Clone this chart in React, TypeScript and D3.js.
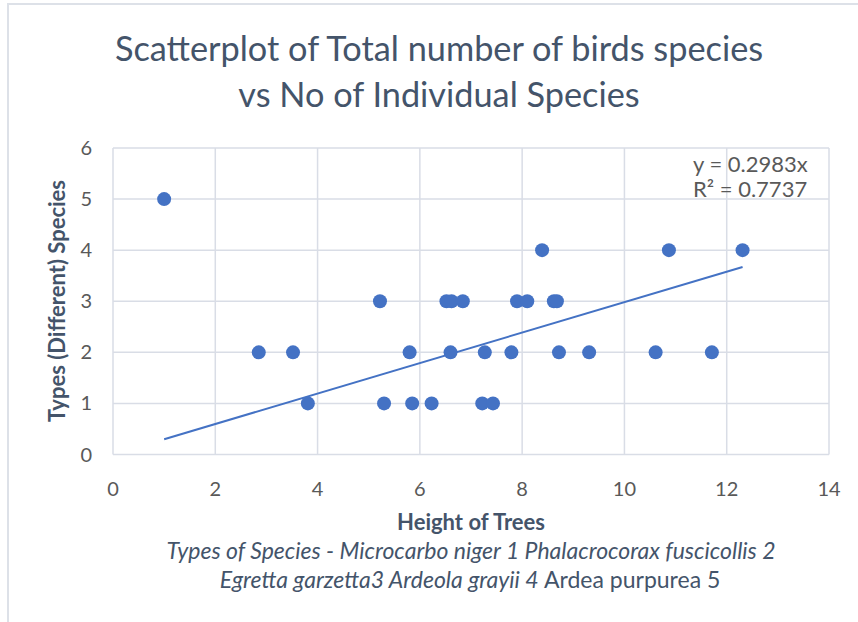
import React from "react";
import * as d3 from "d3";

const heights = [1, 2.85, 3.52, 3.81, 5.22, 5.3, 5.8, 5.85, 6.23, 6.52, 6.62, 6.84, 6.6, 8.39, 10.87, 12.31, 7.9, 8.1, 8.62, 8.68, 7.27, 7.79, 8.72, 9.31, 10.61, 11.71, 7.22, 7.43];
const species = [5, 2, 2, 1, 3, 1, 2, 1, 1, 3, 3, 3, 2, 4, 4, 4, 3, 3, 3, 3, 2, 2, 2, 2, 2, 2, 1, 1];
const xTicks = [0, 2, 4, 6, 8, 10, 12, 14];
const yTicks = [0, 1, 2, 3, 4, 5, 6];
const trendSlope = 0.2983;
const rSquared = 0.7737;
const titleLines = ["Scatterplot of Total number of birds species", "vs No of Individual Species"];

const W = 858, H = 622;
const FONT = "Lato, 'Open Sans', sans-serif";

export default function App() {
  const x = d3.scaleLinear().domain([0, 14]).range([113, 829]);
  const y = d3.scaleLinear().domain([0, 6]).range([454.5, 148]);
  const xMin = d3.min(heights)!, xMax = d3.max(heights)!;
  const line = d3.line<number>().x((d) => x(d)).y((d) => y(trendSlope * d));
  const grid = "#d9dde6";
  return (
    <svg width={W} height={H} style={{ position: "absolute", left: 0, top: 0, background: "#fff" }} fontFamily={FONT}>
      <rect x={0} y={0} width={W} height={H} fill="#fff" />
      <path d={`M8,${H} L8,4 L${W},4`} fill="none" stroke="#dde1e8" strokeWidth={2} />
      {titleLines.map((t, i) => (
        <text key={i} x={439} y={61 + i * 46} textAnchor="middle" fontSize={34.3} fill="#44546a">{t}</text>
      ))}
      {xTicks.map((t) => (
        <line key={"gx" + t} x1={x(t)} x2={x(t)} y1={y(0)} y2={y(6)} stroke={grid} strokeWidth={1.5} />
      ))}
      {yTicks.map((t) => (
        <line key={"gy" + t} x1={x(0)} x2={x(14)} y1={y(t)} y2={y(t)} stroke={grid} strokeWidth={1.5} />
      ))}
      {xTicks.map((t) => (
        <text key={"tx" + t} x={x(t)} y={496} textAnchor="middle" fontSize={20} fill="#595959">{t}</text>
      ))}
      {yTicks.map((t) => (
        <text key={"ty" + t} x={92} y={y(t) + 7} textAnchor="end" fontSize={20} fill="#595959">{t}</text>
      ))}
      <path d={line([xMin, xMax]) || ""} fill="none" stroke="#4472c4" strokeWidth={2} />
      {heights.map((h, i) => (
        <circle key={i} cx={x(h)} cy={y(species[i])} r={7} fill="#4472c4" />
      ))}
      <text x={693} y={172} fontSize={22} fill="#595959">{`y = ${trendSlope}x`}</text>
      <text x={693} y={197} fontSize={22} fill="#595959">{`R² = ${rSquared}`}</text>
      <text transform={`translate(65,301) rotate(-90)`} textAnchor="middle" fontSize={22} fontWeight="bold" fill="#44546a">Types (Different) Species</text>
      <text x={471} y={530} textAnchor="middle" fontSize={22} fontWeight="bold" fill="#44546a">Height of Trees</text>
      <text x={471} y={559} textAnchor="middle" fontSize={23} fontStyle="italic" fill="#44546a">Types of Species - Microcarbo niger 1 Phalacrocorax fuscicollis 2</text>
      <text x={470} y={588} textAnchor="middle" fontSize={23} fill="#44546a">
        <tspan fontStyle="italic">Egretta garzetta3 Ardeola grayii 4 </tspan>
        <tspan>Ardea purpurea 5</tspan>
      </text>
    </svg>
  );
}
